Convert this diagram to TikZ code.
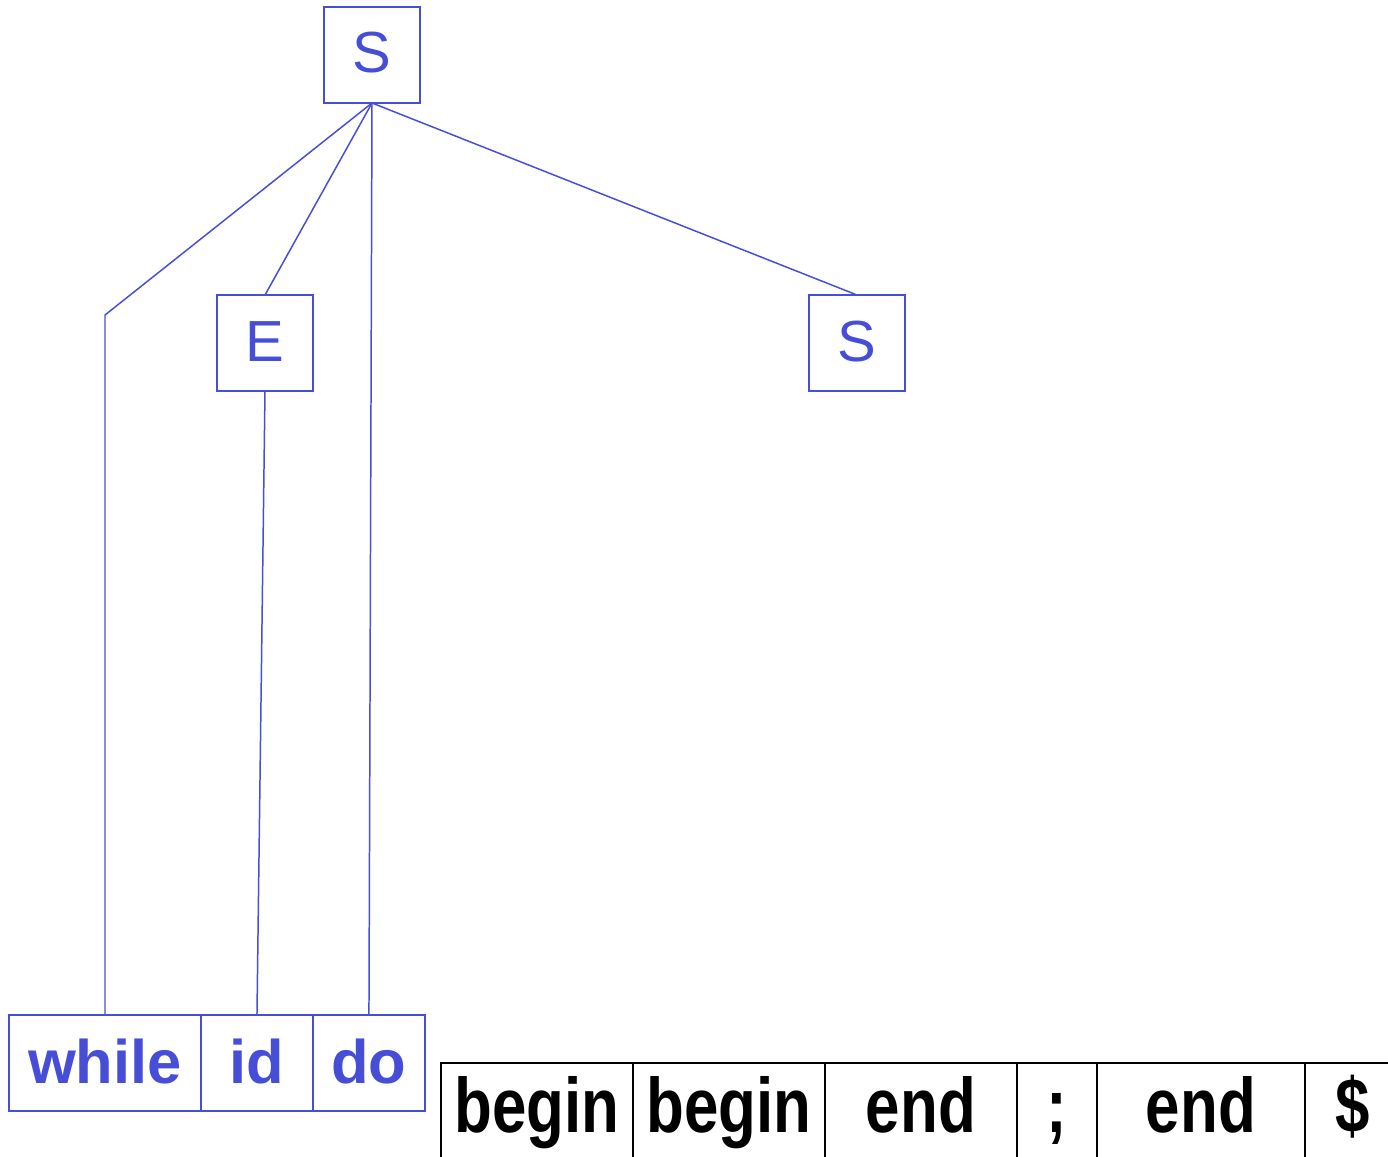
\documentclass[tikz,border=0pt]{standalone}
\usepackage{fontspec}
\setmainfont{Liberation Sans}
\newfontfamily\tokfont[FakeStretch=0.8]{Liberation Sans}
\usetikzlibrary{positioning}
\definecolor{treeblue}{RGB}{70,78,216}
\tikzset{
  sym/.style={draw=treeblue, line width=0.9pt, text=treeblue, inner sep=0pt, outer sep=0pt,
    minimum width=1.92cm, text height=1.32cm, text depth=0.6cm, font=\fontsize{33}{40}\selectfont},
  leaf/.style={draw=treeblue, line width=0.9pt, text=treeblue, inner sep=0pt, outer sep=0pt,
    text height=1.36cm, text depth=0.56cm, font=\bfseries\fontsize{35}{42}\selectfont},
  edge/.style={treeblue, line width=0.85pt},
  cell/.style={inner sep=0pt, outer sep=0pt, text height=1.38cm, text depth=0.62cm,
    font=\tokfont\bfseries\fontsize{44}{53}\selectfont},
}
\begin{document}
\begin{tikzpicture}[x=0.02cm, y=-0.02cm]
        \useasboundingbox (0,0) rectangle (1388,1156);

        % Tree
        \node[sym] (Root) at (372,55) {S};
        \node[sym] (Expr) at (265,343) {E};
        \node[sym] (Stmt) at (857,343) {S};

        % Leaves
        \node[leaf, minimum width=3.84cm] (While) at (105,1063) {while};
        \node[leaf, minimum width=2.24cm, right=0pt of While] (Id) {id};
        \node[leaf, minimum width=2.24cm, right=0pt of Id] (Do) {do};

        \coordinate (Bend) at (105,315);
        \draw[edge] (Root.south) -- (Bend) -- (While.north);
        \draw[edge] (Root.south) -- (Expr.north);
        \draw[edge] (Root.south) -- (Do.north);
        \draw[edge] (Root.south) -- (Stmt.north);
        \draw[edge] (Expr.south) -- (Id.north);

        % Input
        \node[cell, minimum width=3.84cm, anchor=north west] (Tok1) at (441,1063) {begin};
        \node[cell, minimum width=3.84cm, right=0pt of Tok1] (Tok2) {begin};
        \node[cell, minimum width=3.84cm, right=0pt of Tok2] (Tok3) {end};
        \node[cell, minimum width=1.6cm, right=0pt of Tok3] (Tok4) {;};
        \node[cell, minimum width=4.16cm, right=0pt of Tok4] (Tok5) {end};
        \node[cell, minimum width=1.92cm, right=0pt of Tok5] (Tok6) {\$};
        \draw[line width=1.1pt] (Tok1.south west) -- (Tok1.north west) -- (Tok6.north east);
        \foreach \t in {1,...,5}
          \draw[line width=1.1pt] (Tok\t.north east) -- (Tok\t.south east);
\end{tikzpicture}
\end{document}
